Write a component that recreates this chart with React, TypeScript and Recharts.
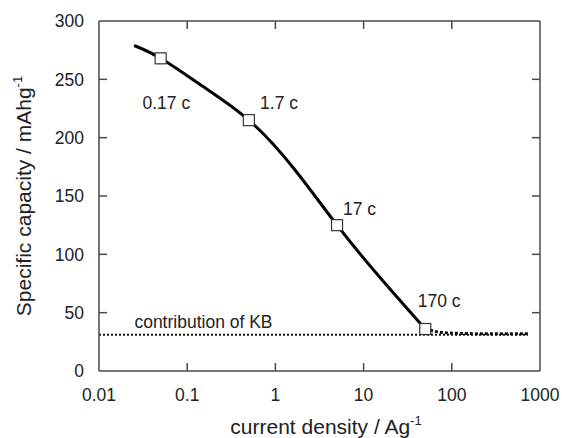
import React from 'react';
import { ComposedChart, Line, Scatter, XAxis, YAxis, ReferenceDot, ReferenceLine, Label } from 'recharts';

const curveX = [0.025, 0.05, 0.15, 0.5, 1.6, 5, 15, 50];
const curveY = [279, 268, 244, 215, 174, 125, 81, 36];
const tailX = [50, 70, 100, 200, 400, 750];
const tailY = [36, 33.5, 32.5, 32, 32, 32];
const kbX = [0.01, 730];
const kbY = [31, 31];
const markerX = [0.05, 0.5, 5, 50];
const markerY = [268, 215, 125, 36];
const rateLabels = ['0.17 c', '1.7 c', '17 c', '170 c'];
const rateLabelX = [0.058, 1.1, 9.0, 72];
const rateLabelY = [230, 230, 139, 60];
const kbLabel = 'contribution of KB';
const kbLabelX = 0.153;
const kbLabelY = 42.4;
const xTicks = [0.01, 0.1, 1, 10, 100, 1000];
const yTicks = [0, 50, 100, 150, 200, 250, 300];

const X_DOMAIN: [number, number] = [0.01, 1000];
const Y_DOMAIN: [number, number] = [0, 300];

const toPts = (xs: number[], ys: number[]) => xs.map((x, i) => ({ x, y: ys[i] }));
const curveData = toPts(curveX, curveY);
const tailData = toPts(tailX, tailY);
const kbData = toPts(kbX, kbY);
const markerData = toPts(markerX, markerY);

const FONT = '"Liberation Sans", Arial, Helvetica, sans-serif';
const AXIS = '#4a4a4a';
const X_MARGIN = 18;
const Y_MARGIN = 15;
// inward tick length of 8px expressed in axis units (plot is 350px tall, 5 decades over 441px)
const Y_TICK_UNITS = (8 / 350) * (Y_DOMAIN[1] - Y_DOMAIN[0]);
const X_TICK_FACTOR = Math.pow(10, (8 / 441) * 5);

const BottomTick = (props: any) => {
  const { x, y, payload } = props;
  return (
    <text x={x} y={y} dy="0.71em" textAnchor="middle" fill="#222" fontSize={17.5} fontFamily={FONT}>
      {String(payload.value)}
    </text>
  );
};

const LeftTick = (props: any) => {
  const { x, y, payload } = props;
  return (
    <text x={x} y={y} dy="0.355em" textAnchor="end" fill="#222" fontSize={17.5} fontFamily={FONT}>
      {String(payload.value)}
    </text>
  );
};

const Square = (props: any) => {
  const { cx, cy } = props;
  if (cx == null || cy == null) return null;
  return <rect x={cx - 5.5} y={cy - 5.5} width={11} height={11} fill="#fff" stroke="#333" strokeWidth={1.2} />;
};

const YLabel = () => (
  <text
    x={31}
    y={196}
    transform="rotate(-90, 31, 196)"
    textAnchor="middle"
    fill="#222"
    fontSize={21}
    fontFamily={FONT}
  >
    Specific capacity / mAhg
    <tspan fontSize={13} dy={-9}>-1</tspan>
  </text>
);

const XLabel = () => (
  <text x={326} y={434} textAnchor="middle" fill="#222" fontSize={21} fontFamily={FONT}>
    current density / Ag
    <tspan fontSize={13} dy={-9}>-1</tspan>
  </text>
);

export default function App() {
  return (
    <div style={{ position: 'absolute', left: 0, top: 0, background: '#fff' }}>
      <ComposedChart width={562} height={438} margin={{ top: 21, right: 22, left: 0, bottom: 0 }}>
        <XAxis
          xAxisId={0}
          dataKey="x"
          type="number"
          scale="log"
          domain={X_DOMAIN}
          ticks={xTicks}
          allowDataOverflow
          height={67}
          tickSize={0}
          tickLine={false}
          tickMargin={X_MARGIN}
          tick={<BottomTick />}
          stroke={AXIS}
          strokeWidth={1.5}
          interval={0}
        >
          <Label content={<XLabel />} />
        </XAxis>
        <XAxis
          xAxisId="top"
          orientation="top"
          dataKey="x"
          type="number"
          scale="log"
          domain={X_DOMAIN}
          ticks={xTicks}
          allowDataOverflow
          mirror
          height={30}
          tick={false}
          tickLine={false}
          stroke={AXIS}
          strokeWidth={1.5}
        />
        <YAxis
          yAxisId={0}
          dataKey="y"
          type="number"
          domain={Y_DOMAIN}
          ticks={yTicks}
          allowDataOverflow
          width={99}
          tickSize={0}
          tickLine={false}
          tickMargin={Y_MARGIN}
          tick={<LeftTick />}
          stroke={AXIS}
          strokeWidth={1.5}
          interval={0}
        >
          <Label content={<YLabel />} />
        </YAxis>
        <YAxis
          yAxisId="right"
          orientation="right"
          type="number"
          domain={Y_DOMAIN}
          ticks={yTicks}
          allowDataOverflow
          mirror
          width={30}
          tick={false}
          tickLine={false}
          stroke={AXIS}
          strokeWidth={1.5}
        />
        {xTicks.slice(1, -1).map((v) => (
          <ReferenceLine
            key={'b' + v}
            segment={[{ x: v, y: Y_DOMAIN[0] }, { x: v, y: Y_DOMAIN[0] + Y_TICK_UNITS }]}
            stroke={AXIS}
            strokeWidth={1.5}
            ifOverflow="visible"
          />
        ))}
        {xTicks.slice(1, -1).map((v) => (
          <ReferenceLine
            key={'t' + v}
            segment={[{ x: v, y: Y_DOMAIN[1] }, { x: v, y: Y_DOMAIN[1] - Y_TICK_UNITS }]}
            stroke={AXIS}
            strokeWidth={1.5}
            ifOverflow="visible"
          />
        ))}
        {yTicks.slice(1, -1).map((v) => (
          <ReferenceLine
            key={'l' + v}
            segment={[{ x: X_DOMAIN[0], y: v }, { x: X_DOMAIN[0] * X_TICK_FACTOR, y: v }]}
            stroke={AXIS}
            strokeWidth={1.5}
            ifOverflow="visible"
          />
        ))}
        {yTicks.slice(1, -1).map((v) => (
          <ReferenceLine
            key={'r' + v}
            segment={[{ x: X_DOMAIN[1], y: v }, { x: X_DOMAIN[1] / X_TICK_FACTOR, y: v }]}
            stroke={AXIS}
            strokeWidth={1.5}
            ifOverflow="visible"
          />
        ))}
        <Line
          data={kbData}
          dataKey="y"
          type="linear"
          stroke="#111"
          strokeWidth={2}
          strokeDasharray="2 2"
          dot={false}
          activeDot={false}
          isAnimationActive={false}
        />
        <Line
          data={tailData}
          dataKey="y"
          type="monotone"
          stroke="#111"
          strokeWidth={3}
          strokeDasharray="3 2"
          dot={false}
          activeDot={false}
          isAnimationActive={false}
        />
        <Line
          data={curveData}
          dataKey="y"
          type="natural"
          stroke="#000"
          strokeWidth={3}
          dot={false}
          activeDot={false}
          isAnimationActive={false}
        />
        <Scatter data={markerData} dataKey="y" shape={<Square />} isAnimationActive={false} />
        {rateLabels.map((t, i) => (
          <ReferenceDot
            key={t}
            x={rateLabelX[i]}
            y={rateLabelY[i]}
            r={0}
            fill="none"
            stroke="none"
            ifOverflow="visible"
            label={{ value: t, position: 'center', fill: '#222', fontSize: 17.5, fontFamily: FONT }}
          />
        ))}
        <ReferenceDot
          x={kbLabelX}
          y={kbLabelY}
          r={0}
          fill="none"
          stroke="none"
          ifOverflow="visible"
          label={{ value: kbLabel, position: 'center', fill: '#222', fontSize: 17.5, fontFamily: FONT }}
        />
      </ComposedChart>
    </div>
  );
}
